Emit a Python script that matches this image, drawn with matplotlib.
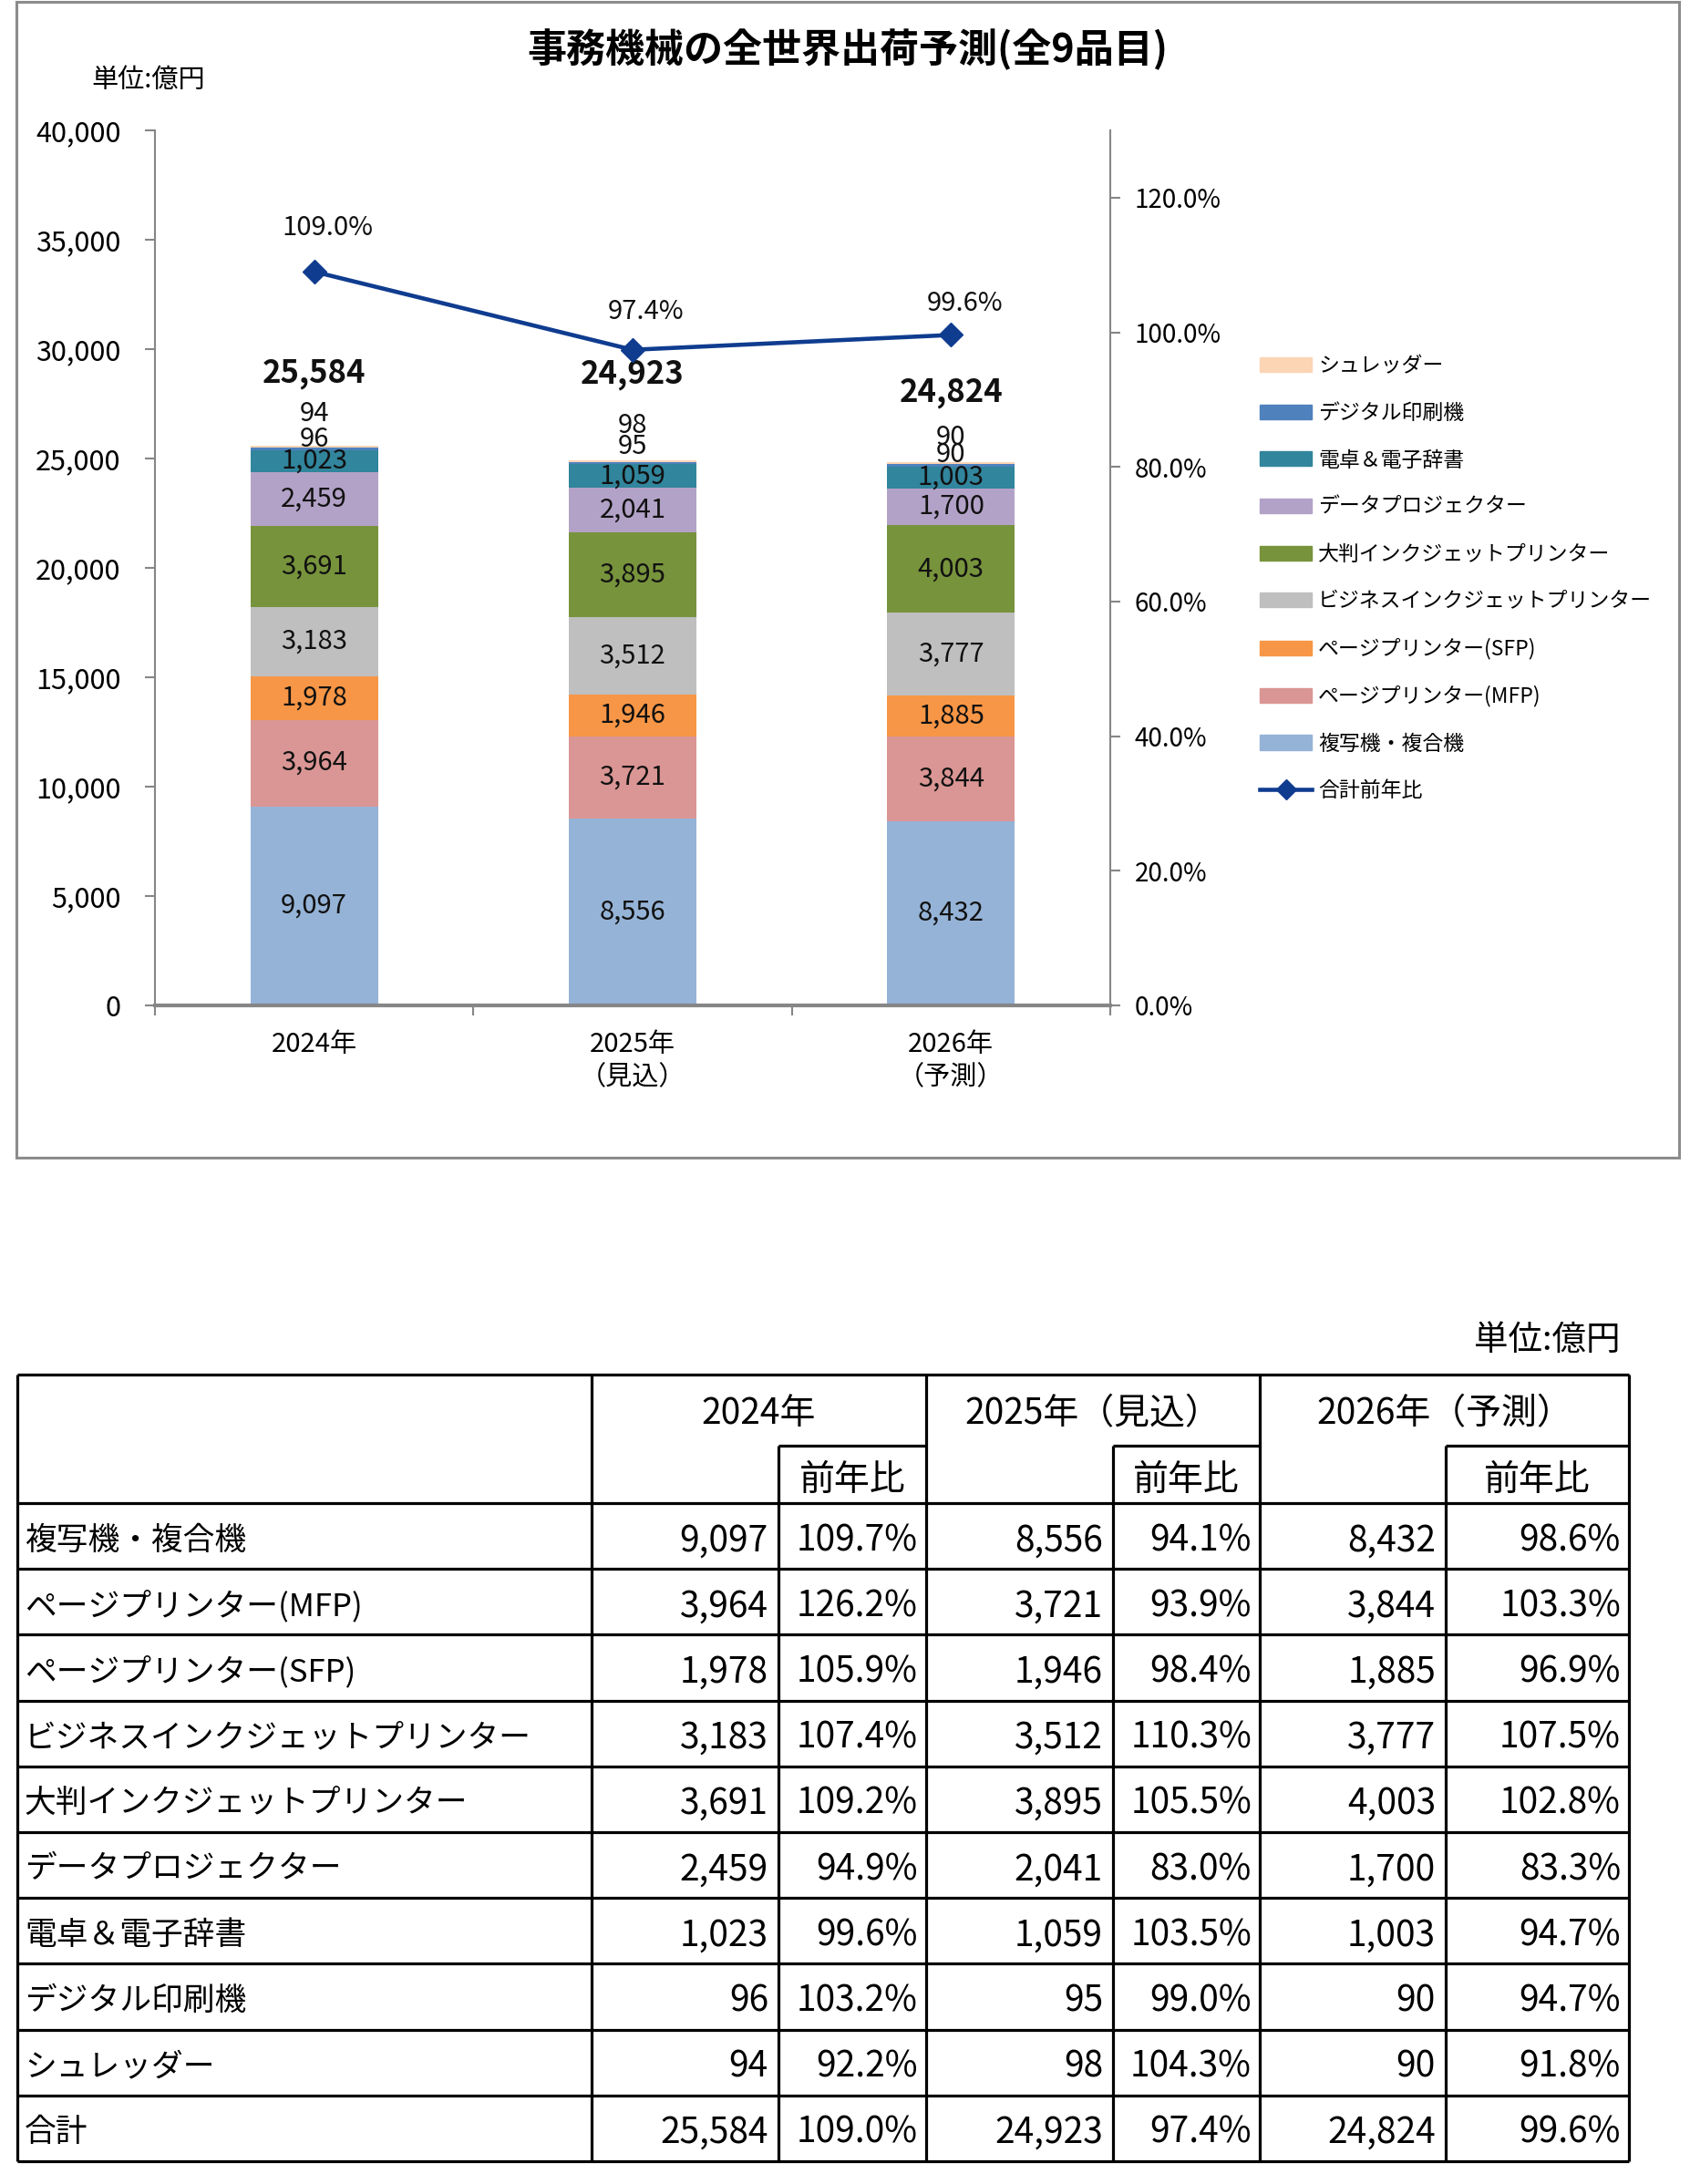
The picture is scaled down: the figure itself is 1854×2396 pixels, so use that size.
import matplotlib
matplotlib.use("Agg")
import matplotlib.pyplot as plt
from matplotlib.patches import Patch, Rectangle
from matplotlib.lines import Line2D
from matplotlib.ticker import FuncFormatter, FixedLocator

plt.rcParams['font.family'] = ['Noto Sans CJK JP', 'DejaVu Sans']

# ---- data ----
categories = ['複写機・複合機', 'ページプリンター(MFP)', 'ページプリンター(SFP)',
              'ビジネスインクジェットプリンター', '大判インクジェットプリンター',
              'データプロジェクター', '電卓＆電子辞書', 'デジタル印刷機', 'シュレッダー']
year_labels = ['2024年', '2025年\n（見込）', '2026年\n（予測）']
table_years = ['2024年', '2025年（見込）', '2026年（予測）']
values_2024 = [9097, 3964, 1978, 3183, 3691, 2459, 1023, 96, 94]
values_2025 = [8556, 3721, 1946, 3512, 3895, 2041, 1059, 95, 98]
values_2026 = [8432, 3844, 1885, 3777, 4003, 1700, 1003, 90, 90]
yoy_2024 = [109.7, 126.2, 105.9, 107.4, 109.2, 94.9, 99.6, 103.2, 92.2]
yoy_2025 = [94.1, 93.9, 98.4, 110.3, 105.5, 83.0, 103.5, 99.0, 104.3]
yoy_2026 = [98.6, 103.3, 96.9, 107.5, 102.8, 83.3, 94.7, 94.7, 91.8]
totals = [25584, 24923, 24824]
total_yoy = [109.0, 97.4, 99.6]

colors = ['#95B3D7', '#DA9694', '#F79646', '#BFBFBF', '#77933C',
          '#B3A2C7', '#31859C', '#4F81BD', '#FCD5B5']
line_color = '#0F3C8F'

W, H = 1854, 2396
fig = plt.figure(figsize=(W / 100, H / 100), dpi=100)

# background axes in pixel units (frame + table)
bg = fig.add_axes([0, 0, 1, 1])
bg.set_xlim(0, W)
bg.set_ylim(H, 0)
bg.axis('off')
bg.add_patch(Rectangle((18, 2), 1824, 1268, fill=False, ec='#8C8C8C', lw=2.2))

# ---- chart ----
ax = fig.add_axes([170 / W, 1 - 1103 / H, (1218 - 170) / W, (1103 - 143) / H])
series = [values_2024, values_2025, values_2026]
x = [0, 1, 2]
bottoms = [0, 0, 0]
for i, cat in enumerate(categories):
    vals = [s[i] for s in series]
    ax.bar(x, vals, 0.4, bottom=bottoms, color=colors[i], label=cat, zorder=2)
    for j in x:
        if i < 7:
            ax.text(j, bottoms[j] + vals[j] / 2, f'{vals[j]:,}', ha='center',
                    va='center', fontsize=21, color='#111111', zorder=4)
    bottoms = [b + v for b, v in zip(bottoms, vals)]

# small segments and totals labelled above the bar tops (offsets in px)
dig_off = [7, 15, 8]
shr_off = [35, 38, 27]
tot_off = [79, 94, 77]
for j in x:
    top = bottoms[j]
    ax.annotate(f'{series[j][7]:,}', (j, top), xytext=(0, dig_off[j]),
                textcoords='offset pixels', ha='center', va='center',
                fontsize=21, color='#111111')
    ax.annotate(f'{series[j][8]:,}', (j, top), xytext=(0, shr_off[j]),
                textcoords='offset pixels', ha='center', va='center',
                fontsize=21, color='#111111')
    ax.annotate(f'{totals[j]:,}', (j, top), xytext=(0, tot_off[j]),
                textcoords='offset pixels', ha='center', va='center',
                fontsize=25, fontweight='bold', color='#111111')

ax.set_xlim(-0.5, 2.5)
ax.set_ylim(0, 40000)
ax.set_yticks(range(0, 40001, 5000))
ax.yaxis.set_major_formatter(FuncFormatter(lambda v, p: f'{int(v):,}'))
ax.set_xticks(x)
ax.set_xticklabels(year_labels, fontsize=21, linespacing=1.3)
ax.xaxis.set_minor_locator(FixedLocator([-0.5, 0.5, 1.5, 2.5]))
ax.tick_params(axis='x', which='major', length=0, pad=20)
ax.tick_params(axis='x', which='minor', length=8, width=1.5, color='#868686')
ax.tick_params(axis='y', labelsize=22, length=8, width=1.5, color='#868686', pad=19)
for s in ['top', 'right']:
    ax.spines[s].set_visible(False)
ax.spines['left'].set_color('#868686')
ax.spines['left'].set_linewidth(1.5)
ax.spines['bottom'].set_color('#868686')
ax.spines['bottom'].set_linewidth(3)

ax2 = ax.twinx()
ax2.plot(x, total_yoy, color=line_color, lw=3.3, marker='D', markersize=13, zorder=5)
ratio_off = [48, 42, 34]
for j in x:
    ax2.annotate(f'{total_yoy[j]:.1f}%', (j, total_yoy[j]), xytext=(15, ratio_off[j]),
                 textcoords='offset pixels', ha='center', va='center',
                 fontsize=21, color='#111111')
ax2.set_ylim(0, 130)
ax2.set_yticks(range(0, 121, 20))
ax2.yaxis.set_major_formatter(FuncFormatter(lambda v, p: f'{v:.1f}%'))
ax2.tick_params(axis='y', labelsize=20, length=8, width=1.5, color='#868686', pad=11)
for s in ['top', 'left', 'bottom']:
    ax2.spines[s].set_visible(False)
ax2.spines['right'].set_color('#868686')
ax2.spines['right'].set_linewidth(1.5)

fig.text(930 / W, 1 - 54 / H, '事務機械の全世界出荷予測(全9品目)', ha='center',
         va='center', fontsize=31, fontweight='bold')
fig.text(100 / W, 1 - 88 / H, '単位:億円', ha='left', va='center', fontsize=21)

handles = [Patch(color=colors[i], label=categories[i]) for i in range(8, -1, -1)]
handles.append(Line2D([], [], color=line_color, lw=3.3, marker='D', markersize=11,
                      label='合計前年比'))
fig.legend(handles=handles, loc='upper left', bbox_to_anchor=(1382 / W, 1 - 390 / H),
           frameon=False, fontsize=16.5, handlelength=2.5, handleheight=0.7,
           handletextpad=0.3, labelspacing=1.25, borderpad=0, borderaxespad=0)

# ---- table ----
cols = [19, 649, 854, 1016, 1221, 1382, 1586, 1787]
y_top, y_sub, y_head = 1508, 1586, 1649
row_h = 72.2
n_rows = len(categories) + 1
y_bot = y_head + n_rows * row_h
lw = 2.3
bg.hlines([y_top, y_head], cols[0], cols[-1], color='black', lw=lw)
for k in range(n_rows):
    bg.hlines(y_head + (k + 1) * row_h, cols[0], cols[-1], color='black', lw=lw)
for a, b in [(cols[2], cols[3]), (cols[4], cols[5]), (cols[6], cols[7])]:
    bg.hlines(y_sub, a, b, color='black', lw=lw)
bg.vlines([cols[0], cols[1], cols[3], cols[5], cols[7]], y_top, y_bot, color='black', lw=lw)
bg.vlines([cols[2], cols[4], cols[6]], y_sub, y_bot, color='black', lw=lw)

bg.text(1778, 1470, '単位:億円', ha='right', va='center', fontsize=27)
for k, name in enumerate(table_years):
    bg.text((cols[1 + 2 * k] + cols[3 + 2 * k]) / 2, 1551, name, ha='center',
            va='center', fontsize=28)
    bg.text((cols[2 + 2 * k] + cols[3 + 2 * k]) / 2, 1624, '前年比', ha='center',
            va='center', fontsize=28)

row_names = categories + ['合計']
vals_cols = [values_2024 + [totals[0]], values_2025 + [totals[1]], values_2026 + [totals[2]]]
yoy_cols = [yoy_2024 + [total_yoy[0]], yoy_2025 + [total_yoy[1]], yoy_2026 + [total_yoy[2]]]
for r, name in enumerate(row_names):
    yc = y_head + (r + 0.5) * row_h + 5
    bg.text(27, yc, name, ha='left', va='center', fontsize=25)
    for k in range(3):
        bg.text(cols[2 + 2 * k] - 11, yc, f'{vals_cols[k][r]:,}', ha='right',
                va='center', fontsize=28)
        bg.text(cols[3 + 2 * k] - 9, yc, f'{yoy_cols[k][r]:.1f}%', ha='right',
                va='center', fontsize=28)

fig.savefig('out.png', dpi=100)
